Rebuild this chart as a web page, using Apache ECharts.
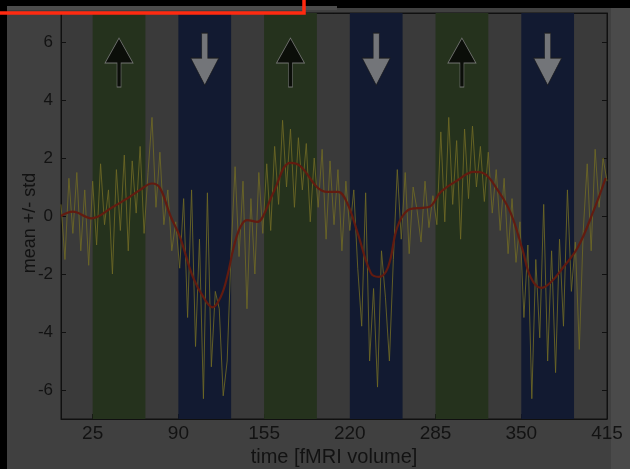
<!DOCTYPE html>
<html>
<head>
<meta charset="utf-8">
<script src="https://cdn.jsdelivr.net/npm/echarts@6/dist/echarts.min.js"></script>
<style>
html,body{margin:0;padding:0;background:#404040;}
#c{width:630px;height:469px;}
</style>
</head>
<body>
<div id="c"></div>
<script>
// ---- data ----
const xTicks = [25, 90, 155, 220, 285, 350, 415];
const yTicks = [-6, -4, -2, 0, 2, 4, 6];
// task blocks (fMRI volumes)
const upBlocks = [[25, 65], [155, 195], [285, 325]];
const downBlocks = [[90, 130], [220, 260], [350, 390]];
const upArrowX = [45, 175, 305];
const downArrowX = [110, 240, 370];
const upArrowY = 5.29;
const downArrowY = 5.41;
// smoothed mean
const meanX = [1, 10, 24, 40, 51, 61, 70, 76, 84, 91, 101, 109, 116, 122, 127, 132, 137, 142, 150, 154, 162, 175, 183, 195, 203, 211, 218, 226, 236, 242, 249, 256, 264, 271, 280, 289, 302, 314, 321, 332, 342, 351, 357, 365, 372, 382, 393, 405, 414];
const meanY = [0, 0.15, -0.08, 0.3, 0.6, 0.9, 1.12, 0.97, 0, -0.7, -2.1, -2.8, -3.15, -2.8, -2.1, -1.07, -0.38, -0.14, -0.2, -0.03, 0.8, 1.83, 1.7, 1.0, 0.83, 0.83, 0.45, -0.6, -1.97, -2.1, -1.76, -0.38, 0.2, 0.27, 0.31, 0.83, 1.24, 1.52, 1.48, 0.9, 0.1, -1.17, -2.1, -2.48, -2.3, -1.76, -1.07, 0.2, 1.31];
// raw signal
const rawX = [1,4,7,10,13,16,19,22,25,28,31,34,37,40,43,46,49,52,55,58,61,64,67,70,73,76,79,82,85,88,91,94,97,100,103,106,109,112,115,118,121,124,127,130,133,136,139,142,145,148,151,154,157,160,163,166,169,172,175,178,181,184,187,190,193,196,199,202,205,208,211,214,217,220,223,226,229,232,235,238,241,244,247,250,253,256,259,262,265,268,271,274,277,280,283,286,289,292,295,298,301,304,307,310,313,316,319,322,325,328,331,334,337,340,343,346,349,352,355,358,361,364,367,370,373,376,379,382,385,388,391,394,397,400,403,406,409,412,415];
const rawY = [
  0.4, -1.5, 1.3, -0.6, 1.5, -1.2, 0.9, -1.7,
  1.2, -1.0, 1.8, -0.3, 0.9, -2.0, 1.6, -0.5, 2.1, -1.2, 1.9, 0.1, 2.4, -0.6,
  1.5, 3.4, 0.3, 2.2, -0.3, 0.9, -1.2, -0.2,
  -1.8, 0.6, -3.5, 0.9, -4.5, -0.8, -6.3, 0.8, -5.2, -2.6, -3.2, -6.2, -5.0, -1.2,
  1.7, -1.4, 1.2, -3.2, 0.6, -2.0, 1.5, -0.6,
  1.8, -0.5, 2.4, 0.4, 3.3, 1.0, 3.0, 0.3, 2.7, 0.9, 2.5, -0.2, 2.0, 0.3,
  2.3, -0.8, 1.9, -0.3, 1.6, -1.2, 1.2, -0.5,
  0.9, -1.8, -3.8, 0.8, -5.0, -2.5, -5.9, -1.2, -2.8, -5.0, -1.5, 1.6, -0.8,
  1.5, -1.3, 1.0, 0.2, -0.9, 1.2, -0.4, 0.7, -0.3,
  2.9, -0.2, 3.4, 0.4, 2.6, -0.8, 3.0, 0.6, 3.1, 1.0, 2.4, 0.5, 2.2,
  0.1, 1.6, -0.5, 1.3, -1.3, 0.6, -1.6,
  -0.2, -3.5, -1.0, -6.3, -1.5, -4.2, 0.4, -5.0, -1.2, -5.4, -0.8, -3.8, 0.9, -2.6, -0.9,
  -4.6, -0.5, 1.8, -1.2, 2.3, 0.3, 2.0, 1.2
];

const chart = echarts.init(document.getElementById('c'), null, {renderer: 'canvas'});

const pair = (xs, ys) => xs.map((x, i) => [x, ys[i]]);
const areas = [];
upBlocks.forEach(b => areas.push([{xAxis: b[0], itemStyle: {color: '#25321d'}}, {xAxis: b[1]}]));
downBlocks.forEach(b => areas.push([{xAxis: b[0], itemStyle: {color: '#121a31'}}, {xAxis: b[1]}]));

const txt = '#121212';
const font = 'Liberation Sans, Arial, sans-serif';

chart.setOption({
  animation: false,
  backgroundColor: '#404040',
  grid: {left: 61, top: 13, right: 23, bottom: 50, show: true, backgroundColor: '#3a3a3a', borderColor: '#101010', borderWidth: 1, outerBoundsMode: 'none', containLabel: false},
  xAxis: [{
    type: 'value', min: 1, max: 415, position: 'bottom',
    name: 'time [fMRI volume]', nameLocation: 'middle', nameGap: 25,
    nameTextStyle: {color: txt, fontSize: 20, fontFamily: font},
    axisLine: {show: true, onZero: false, lineStyle: {color: '#101010'}},
    axisTick: {show: true, inside: true, length: 5, customValues: xTicks, lineStyle: {color: '#101010'}},
    axisLabel: {show: true, customValues: xTicks, color: txt, fontSize: 19, fontFamily: font, margin: 5},
    splitLine: {show: false}
  }, {
    type: 'value', min: 1, max: 415, position: 'top',
    axisLine: {show: true, onZero: false, lineStyle: {color: '#101010'}},
    axisTick: {show: false}, axisLabel: {show: false}, splitLine: {show: false}
  }],
  yAxis: [{
    type: 'value', min: -7, max: 7, position: 'left',
    name: 'mean +/- std', nameLocation: 'middle', nameGap: 22, nameRotate: 90, nameMoveOverlap: false,
    nameTextStyle: {color: txt, fontSize: 18, fontFamily: font, padding: [0, 14, 0, 0]},
    axisLine: {show: true, onZero: false, lineStyle: {color: '#101010'}},
    axisTick: {show: true, inside: true, length: 5, customValues: yTicks, lineStyle: {color: '#101010'}},
    axisLabel: {show: true, customValues: yTicks, color: txt, fontSize: 17, fontFamily: font, margin: 8},
    splitLine: {show: false}
  }, {
    type: 'value', min: -7, max: 7, position: 'right',
    axisLine: {show: true, onZero: false, lineStyle: {color: '#101010'}},
    axisTick: {show: true, inside: true, length: 5, customValues: yTicks, lineStyle: {color: '#101010'}},
    axisLabel: {show: false}, splitLine: {show: false}
  }],
  series: [{
    type: 'line', name: 'raw', data: pair(rawX, rawY), showSymbol: false,
    lineStyle: {color: '#6e6824', width: 1, opacity: 0.85},
    markArea: {silent: true, data: areas},
    z: 2
  }, {
    type: 'line', name: 'mean', data: pair(meanX, meanY), showSymbol: false, smooth: 0.4,
    lineStyle: {color: '#621b10', width: 2.2},
    z: 3
  }, {
    type: 'scatter', name: 'up', data: upArrowX.map(x => [x, upArrowY]),
    symbol: 'path://M14,0 L28,25 L16,25 L16,49 L12,49 L12,25 L0,25 Z',
    symbolSize: [28, 49],
    itemStyle: {color: '#050505', borderColor: '#8a8a8a', borderWidth: 0.8},
    z: 4
  }, {
    type: 'scatter', name: 'down', data: downArrowX.map(x => [x, downArrowY]),
    symbol: 'path://M11,0 L17,0 L17,25 L28,25 L14,52 L0,25 L11,25 Z',
    symbolSize: [28, 52],
    itemStyle: {color: '#8c8c8c', borderColor: '#1c1c1c', borderWidth: 0.8},
    z: 4
  }],
  graphic: [
    {type: 'rect', shape: {x: 611, y: 8, width: 19, height: 461}, style: {fill: '#4a4a4a'}, z: -10, silent: true},
    {type: 'rect', shape: {x: 0, y: 0, width: 7, height: 469}, style: {fill: '#000'}, z: 100},
    {type: 'rect', shape: {x: 0, y: 0, width: 630, height: 6}, style: {fill: '#000'}, z: 100},
    {type: 'rect', shape: {x: 337, y: 0, width: 293, height: 8}, style: {fill: '#000'}, z: 100},
    {type: 'rect', shape: {x: 7, y: 6, width: 330, height: 4}, style: {fill: '#4c4c4c'}, z: 100},
    {type: 'rect', shape: {x: -20, y: -20, width: 324, height: 33}, style: {fill: 'none', stroke: '#ff2a10', lineWidth: 3.5}, z: 101}
  ]
});
</script>
</body>
</html>
